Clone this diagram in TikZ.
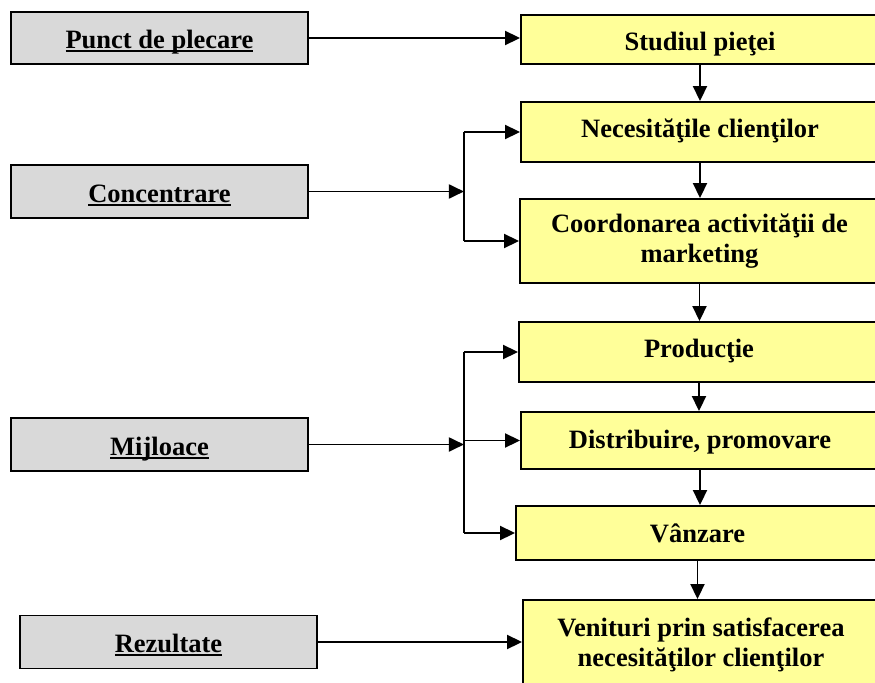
\documentclass[tikz,border=0pt]{standalone}
\usepackage{fontspec}
\setmainfont{Liberation Serif}
\usetikzlibrary{arrows.meta}
\definecolor{boxyellow}{RGB}{255,255,153}
\definecolor{boxgrey}{RGB}{217,217,217}
\newcommand{\ulbox}[1]{\setbox0\hbox{#1}\rlap{\rule[-3.5bp]{\wd0}{1.8bp}}\box0}

\tikzset{
  greybox/.style={draw, fill=boxgrey, minimum width=297bp, minimum height=53bp, text height=22bp, text depth=1bp},
  yellowbox/.style={draw, fill=boxyellow, minimum width=358bp, minimum height=57bp, text height=#1, text depth=2bp},
  yellowbox/.default=18bp,
  twoline/.style={draw, fill=boxyellow, minimum width=358bp, align=center},
  link/.style={-{Triangle[length=15bp,width=14bp]}}
}

\begin{document}
\begin{tikzpicture}[x=1bp, y=-1bp, line width=1.9bp, inner sep=0pt,
    font=\bfseries\fontsize{26.6}{30.1}\selectfont]
  \useasboundingbox (0,0) rectangle (875,683);
  \clip (0,0) rectangle (875,683);
  % left column
  \node[greybox, minimum height=52bp] (punct) at (159.5,38) {\ulbox{Punct de plecare}};
  \node[greybox] (conc) at (159.5,191.5) {\ulbox{Concentrare}};
  \node[greybox] (mijl) at (159.5,444.5) {\ulbox{Mijloace}};
  \node[greybox] (rez) at (168.5,642) {\ulbox{Rezultate}};
  % right column
  \node[yellowbox=25bp, minimum height=49bp] (stud) at (700,39.5) {Studiul pieţei};
  \node[yellowbox=14bp, minimum height=60bp] (nec) at (700,132) {Necesităţile clienţilor};
  \node[twoline, minimum width=359bp, minimum height=84bp] (coord) at (699.5,241) {Coordonarea activităţii de\\marketing};
  \node[yellowbox=12bp, minimum width=360bp, minimum height=60bp] (prod) at (699,352) {Producţie};
  \node[yellowbox, minimum height=57bp] (distr) at (700,440.5) {Distribuire, promovare};
  \node[yellowbox=20bp, minimum width=363bp, minimum height=54bp] (vanz) at (697.5,533) {Vânzare};
  \node[twoline, minimum width=356bp, minimum height=90bp] (venit) at (701,645) {Venituri prin satisfacerea\\necesităţilor clienţilor};
  % connectors
  \draw[link] (punct.east) -- (punct.east -| stud.west);
  \path (conc.east) ++(155,0) coordinate (cfork);
  \draw[link] (conc.east) -- (cfork);
  \draw (cfork |- nec) -- (cfork |- coord);
  \draw[link] (cfork |- nec) -- (nec.west);
  \draw[link] (cfork |- coord) -- (coord.west);
  \path (mijl.east) ++(155,0) coordinate (mfork);
  \draw[link] (mijl.east) -- (mfork);
  \draw (mfork |- prod) -- (mfork |- vanz);
  \foreach \n in {prod, distr, vanz}
    \draw[link] (mfork |- \n) -- (\n.west);
  \draw[link] (rez.east) -- (rez.east -| venit.west);
  \foreach \a/\b in {stud/nec, nec/coord, coord/prod, prod/distr, distr/vanz, vanz/venit}
    \draw[link] (\a.south) -- (\a.south |- \b.north);
\end{tikzpicture}
\end{document}
